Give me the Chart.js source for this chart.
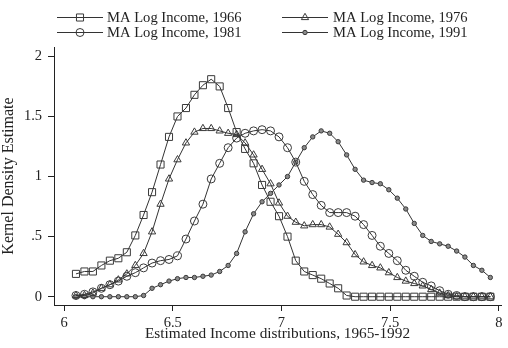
<!DOCTYPE html>
<html><head><meta charset="utf-8">
<script src="https://cdn.jsdelivr.net/npm/chart.js@4.4.1/dist/chart.umd.min.js"></script>
<style>html,body{margin:0;padding:0;background:#fff}#wrap{width:508px;height:348px}</style>
</head><body><div id="wrap"><canvas id="c" width="508" height="348"></canvas></div>
<script>
// Estimation grid (log income)
const incomeGrid = [6.055,6.094,6.133,6.172,6.211,6.250,6.289,6.328,6.366,6.405,
  6.444,6.483,6.522,6.561,6.600,6.639,6.677,6.716,6.755,6.794,
  6.833,6.872,6.911,6.950,6.989,7.028,7.066,7.105,7.144,7.183,
  7.222,7.261,7.300,7.339,7.378,7.417,7.455,7.494,7.533,7.572,
  7.611,7.650,7.689,7.728,7.767,7.806,7.844,7.883,7.922,7.961];
const density1966 = [0.19,0.21,0.21,0.26,0.30,0.32,0.37,0.51,0.68,0.87,
  1.10,1.33,1.50,1.57,1.68,1.76,1.81,1.75,1.57,1.37,
  1.23,1.11,0.93,0.79,0.67,0.50,0.30,0.21,0.18,0.15,
  0.11,0.07,0.01,0,0,0,0,0,0,0,
  0,0,0,0,0,0,0,0,0,0];
const density1976 = [0.01,0.01,0.03,0.07,0.10,0.14,0.19,0.26,0.36,0.54,
  0.77,0.98,1.14,1.28,1.37,1.40,1.40,1.38,1.36,1.35,
  1.28,1.18,1.06,0.94,0.78,0.67,0.62,0.59,0.60,0.60,
  0.58,0.52,0.45,0.35,0.29,0.26,0.24,0.20,0.16,0.13,
  0.11,0.09,0.06,0.03,0.01,0,0,0,0,0];
const density1981 = [0.01,0.02,0.04,0.07,0.10,0.13,0.17,0.20,0.24,0.28,
  0.30,0.31,0.34,0.48,0.63,0.77,0.98,1.11,1.24,1.32,
  1.36,1.38,1.39,1.38,1.33,1.24,1.12,0.96,0.85,0.76,
  0.70,0.70,0.70,0.67,0.60,0.51,0.42,0.36,0.30,0.22,
  0.17,0.12,0.09,0.05,0.02,0.01,0,0,0,0];
const density1991 = [0,0,0,0,0,0,0,0,0.01,0.07,
  0.10,0.13,0.15,0.16,0.16,0.17,0.18,0.21,0.26,0.36,
  0.54,0.69,0.79,0.86,0.93,1.00,1.12,1.24,1.33,1.38,
  1.36,1.29,1.18,1.06,0.97,0.95,0.94,0.89,0.82,0.73,
  0.61,0.51,0.46,0.44,0.42,0.38,0.33,0.26,0.22,0.16];
const seriesNames = ['MA Log Income, 1966','MA Log Income, 1976','MA Log Income, 1981','MA Log Income, 1991'];
const xTicks = [6, 6.5, 7, 7.5, 8];
const xTickLabels = ['6','6.5','7','7.5','8'];
const yTicks = [0, 0.5, 1, 1.5, 2];
const yTickLabels = ['0','.5','1','1.5','2'];
const xTitle = 'Estimated Income distributions, 1965-1992';
const yTitle = 'Kernel Density Estimate';

const FONT = '"Liberation Serif", "Times New Roman", serif';
const INK = '#222';
const LINE = '#333';
const pts = arr => arr.map((v,i)=>({x: incomeGrid[i], y: v}));

function mk(label, arr, style, radius, fill){
  return {label, data: pts(arr), borderColor: LINE, borderWidth: 1, tension: 0,
    pointStyle: style, pointRadius: radius, pointBorderWidth: 1,
    pointBorderColor: '#3a3a3a', pointBackgroundColor: fill, fill: false};
}
const datasets = [
  mk(seriesNames[0], density1966, 'rect', 5, 'rgba(0,0,0,0)'),
  mk(seriesNames[1], density1976, 'triangle', 4.2, 'rgba(0,0,0,0)'),
  mk(seriesNames[2], density1981, 'circle', 4, 'rgba(0,0,0,0)'),
  mk(seriesNames[3], density1991, 'circle', 2.2, '#8a8a8a')
];

const legendPlugin = {
  id: 'stataLegend',
  afterDraw(chart){
    const ctx = chart.ctx;
    const cols = [{x0:57,x1:103,tx:107},{x0:282,x1:328,tx:333}];
    const rows = [17,32];
    chart.data.datasets.forEach((ds,i)=>{
      const c = cols[i%2], y = rows[Math.floor(i/2)];
      ctx.save();
      ctx.strokeStyle = ds.borderColor; ctx.lineWidth = 1;
      ctx.beginPath(); ctx.moveTo(c.x0, y+0.5); ctx.lineTo(c.x1, y+0.5); ctx.stroke();
      ctx.fillStyle = ds.pointBackgroundColor; ctx.strokeStyle = ds.pointBorderColor;
      Chart.helpers.drawPoint(ctx, {pointStyle: ds.pointStyle, radius: ds.pointRadius, borderWidth: 1, rotation: 0}, (c.x0+c.x1)/2, y+0.5);
      ctx.fillStyle = INK; ctx.font = '14.6px ' + FONT; ctx.textBaseline = 'middle'; ctx.textAlign = 'left';
      ctx.fillText(ds.label, c.tx, y+1);
      ctx.restore();
    });
  }
};

new Chart(document.getElementById('c'), {
  type: 'line',
  data: { datasets },
  plugins: [legendPlugin],
  options: {
    responsive: false, animation: false, devicePixelRatio: 1,
    layout: { padding: { top: 47, right: 7, left: 0, bottom: 0 } },
    plugins: { legend: { display: false }, tooltip: { enabled: false } },
    scales: {
      x: {
        type: 'linear', min: 5.954, max: 8.01,
        afterFit: s => { s.height = 43; },
        afterBuildTicks: s => { s.ticks = xTicks.map(v=>({value:v})); },
        ticks: { color: INK, padding: 3, maxRotation: 0, autoSkip: false,
          font: { family: FONT, size: 14.5 },
          callback: (v) => xTickLabels[xTicks.indexOf(v)] },
        grid: { drawOnChartArea: false, drawTicks: true, tickLength: 6, color: '#222' },
        border: { display: true, color: '#222', width: 1 },
        title: { display: true, text: xTitle, color: INK, font: { family: FONT, size: 15.3, lineHeight: 1.2 }, padding: { top: 0, bottom: 5 } }
      },
      y: {
        type: 'linear', min: -0.069, max: 2.078,
        afterFit: s => { s.width = 54; },
        afterBuildTicks: s => { s.ticks = yTicks.map(v=>({value:v})); },
        ticks: { color: INK, padding: 6, autoSkip: false,
          font: { family: FONT, size: 14.5 },
          callback: (v) => yTickLabels[yTicks.indexOf(v)] },
        grid: { drawOnChartArea: false, drawTicks: true, tickLength: 6, color: '#222' },
        border: { display: true, color: '#222', width: 1 },
        title: { display: true, text: yTitle, color: INK, font: { family: FONT, size: 16, lineHeight: 1.1 }, padding: { top: 0, bottom: 0 } }
      }
    }
  }
});
</script></body></html>
